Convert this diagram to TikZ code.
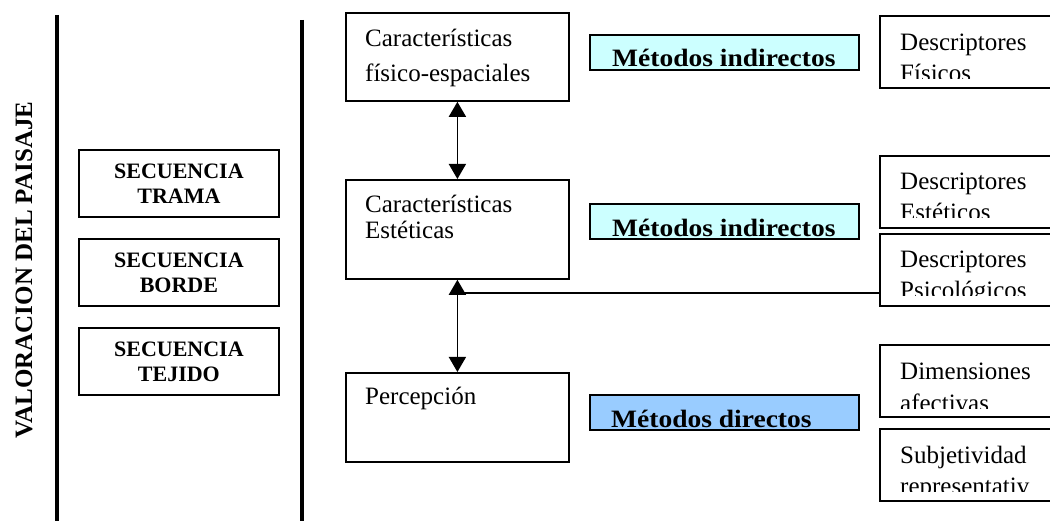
\documentclass[tikz,border=0pt]{standalone}
\usepackage{fontspec}
\usepackage{graphicx}
\setmainfont{Liberation Serif}
\usetikzlibrary{arrows.meta}
\definecolor{methodA}{HTML}{CCFFFF}
\definecolor{methodB}{HTML}{99CCFF}
\newcommand\fRg{\fontsize{25}{30}\selectfont}
\newcommand\fBm{\fontsize{25}{29}\selectfont\bfseries}
\newcommand\fBs{\fontsize{22}{25}\selectfont\bfseries}
\newcommand\fBt{\fontsize{25}{30}\selectfont\bfseries}
\begin{document}
\begin{tikzpicture}[x=1pt,y=-1pt,
  box/.style={draw=black,line width=1.8pt,inner sep=0pt,anchor=north west},
  seqbox/.style={draw=black,line width=1.8pt,inner sep=0pt,minimum width=200pt,minimum height=67pt,anchor=north west,align=center,font=\fBs},
  mbox/.style={draw=black,line width=1.6pt,inner sep=0pt,minimum width=269pt,minimum height=35pt,anchor=north west},
  rbox/.style={draw=black,line width=1.8pt,inner sep=0pt,minimum width=220pt,minimum height=72pt,anchor=north west},
  txt/.style={anchor=base west,inner sep=0pt,font=\fRg},
  mtxt/.style={anchor=base west,inner sep=0pt,font=\fBm},
  conn/.style={draw=black,line width=1.6pt},
  dbl/.style={conn,{Triangle[length=15pt,width=17pt]}-{Triangle[length=15pt,width=17pt]}},
  rule/.style={draw=black,line width=3.5pt}]
\useasboundingbox (0,0) rectangle (1050,521);
\clip (0,0) rectangle (1050,521);

% vertical rules
\coordinate (r1t) at (57,15);
\coordinate (r1b) at (57,525);
\coordinate (r2t) at (302,20);
\coordinate (r2b) at (302,525);
\draw[rule] (r1t) -- (r1b);
\draw[rule] (r2t) -- (r2b);

% rotated title
\node[rotate=90,font=\fBt,inner sep=0pt] (title) at (24,270) {VALORACION DEL PAISAJE};

% sequence boxes
\node[seqbox] (s1) at (78,149) {SECUENCIA\\TRAMA};
\node[seqbox] (s2) at (78,238) {SECUENCIA\\BORDE};
\node[seqbox] (s3) at (78,327) {SECUENCIA\\TEJIDO};

% central boxes
\node[box,minimum width=223pt,minimum height=88pt] (b1) at (345,12) {};
\node[box,minimum width=223pt,minimum height=99pt] (b2) at (345,179) {};
\node[box,minimum width=223pt,minimum height=89pt] (b3) at (345,372) {};
\node[txt] (b1a) at (365,47) {Características};
\node[txt] (b1b) at (365,82) {físico-espaciales};
\node[txt] (b2a) at (365,213) {Características};
\node[txt] (b2b) at (365,239) {Estéticas};
\node[txt] (b3a) at (365,405) {Percepción};

% methods boxes
\node[mbox,fill=methodA] (m1) at (589,34) {};
\node[mbox,fill=methodA] (m2) at (589,203) {};
\node[mbox,fill=methodB] (m3) at (589,394) {};
\begin{scope}
\clip (590,35) rectangle (857,68);
\node[mtxt] (m1t) at (612,67) {\scalebox{1.1}[1]{Métodos indirectos}};
\end{scope}
\begin{scope}
\clip (590,204) rectangle (857,237);
\node[mtxt] (m2t) at (612,237) {\scalebox{1.1}[1]{Métodos indirectos}};
\end{scope}
\begin{scope}
\clip (590,395) rectangle (857,428);
\node[mtxt] (m3t) at (611,428) {\scalebox{1.1}[1]{Métodos directos}};
\end{scope}

% right boxes
\node[rbox] (d1) at (879,15) {};
\node[rbox] (d2) at (879,155) {};
\node[rbox] (d3) at (879,233) {};
\node[rbox] (d4) at (879,344) {};
\node[rbox] (d5) at (879,428) {};
\begin{scope}
\clip (880,16) rectangle (1050,79);
\node[txt] (d1a) at (900,51) {Descriptores};
\node[txt] (d1b) at (900,82) {Físicos};
\end{scope}
\begin{scope}
\clip (880,156) rectangle (1050,218);
\node[txt] (d2a) at (900,190) {Descriptores};
\node[txt] (d2b) at (900,221) {Estéticos};
\end{scope}
\begin{scope}
\clip (880,234) rectangle (1050,296);
\node[txt] (d3a) at (900,268) {Descriptores};
\node[txt] (d3b) at (900,299) {Psicológicos};
\end{scope}
\begin{scope}
\clip (880,345) rectangle (1050,408);
\node[txt] (d4a) at (900,380) {Dimensiones};
\node[txt] (d4b) at (900,411) {afectivas};
\end{scope}
\begin{scope}
\clip (880,429) rectangle (1050,491);
\node[txt] (d5a) at (900,463) {Subjetividad};
\node[txt] (d5b) at (900,494) {representativ};
\end{scope}

% connectors
\draw[dbl] (b1.south) -- (b2.north);
\draw[dbl] (b2.south) -- (b3.north);
\path (b2.south) ++(0,13) coordinate (j);
\draw[conn] (j) -- (j -| d3.west);
\end{tikzpicture}
\end{document}
